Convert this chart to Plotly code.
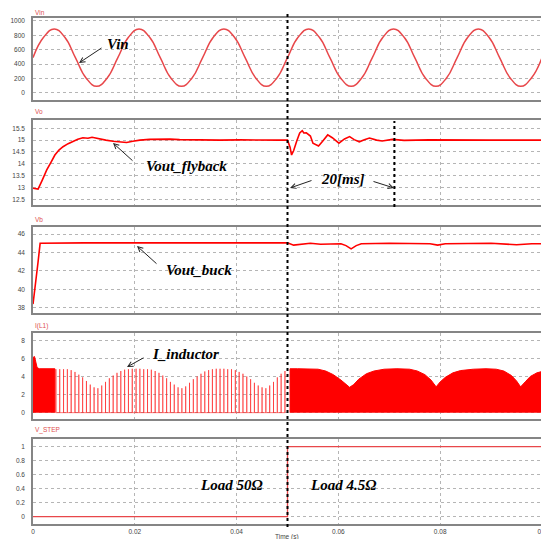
import plotly.graph_objects as go
from plotly.subplots import make_subplots

# ---------------- data ----------------
# Panel 1: Vin
vin_t = [0, 0.00208, 0.00417, 0.00625, 0.00833, 0.01042, 0.0125, 0.01458,
         0.01667, 0.01875, 0.02083, 0.02292, 0.025, 0.02708, 0.02917, 0.03125,
         0.03333, 0.03542, 0.0375, 0.03958, 0.04167, 0.04375, 0.04583, 0.04792,
         0.05, 0.05208, 0.05417, 0.05625, 0.05833, 0.06042, 0.0625, 0.06458,
         0.06667, 0.06875, 0.07083, 0.07292, 0.075, 0.07708, 0.07917, 0.08125,
         0.08333, 0.08542, 0.0875, 0.08958, 0.09167, 0.09375, 0.09583, 0.09792, 0.1]
vin_v = [490, 773, 890, 773, 490, 207, 90, 207,
         490, 773, 890, 773, 490, 207, 90, 207,
         490, 773, 890, 773, 490, 207, 90, 207,
         490, 773, 890, 773, 490, 207, 90, 207,
         490, 773, 890, 773, 490, 207, 90, 207,
         490, 773, 890, 773, 490, 207, 90, 207, 490]

# Panel 2: Vout_flyback
vo_t = [0, 0.001, 0.0018, 0.0027, 0.0035, 0.0043, 0.0051, 0.0059, 0.0069, 0.0076,
        0.0088, 0.0098, 0.0108, 0.0116, 0.0124, 0.0131, 0.0143, 0.0157, 0.0171,
        0.0184, 0.0196, 0.021, 0.0229, 0.0249, 0.0269, 0.0288, 0.0327, 0.0367,
        0.0406, 0.0445, 0.0484, 0.05, 0.0505, 0.0508, 0.0512, 0.0518, 0.0524,
        0.0529, 0.0532, 0.0537, 0.054, 0.0545, 0.055, 0.0555, 0.0561, 0.0569,
        0.0579, 0.0588, 0.0601, 0.0612, 0.0622, 0.0631, 0.0641, 0.0651, 0.0661,
        0.0675, 0.0686, 0.0706, 0.0729, 0.0778, 0.0837, 0.0896, 0.0955, 0.1]
vo_v = [12.97, 12.93, 13.3, 13.74, 14.05, 14.37, 14.58, 14.72, 14.85, 14.93,
        15.04, 15.1, 15.08, 15.12, 15.08, 15.05, 15.0, 14.95, 14.92,
        14.9, 14.95, 15.0, 15.03, 15.05, 15.04, 15.02, 15.0, 15.0,
        15.01, 14.99, 15.0, 15.0, 14.7, 14.37, 14.55, 14.95, 15.3,
        15.4, 15.3, 15.31, 15.25, 15.17, 14.87, 14.8, 14.75, 14.95,
        15.22, 15.1, 14.87, 15.05, 15.15, 15.02, 14.93, 15.02, 15.09,
        15.0, 14.96, 15.03, 14.99, 15.01, 14.99, 15.0, 15.0, 15.0]

# Panel 3: Vout_buck
vb_t = [0, 0.0005, 0.001, 0.0014, 0.003, 0.01, 0.02, 0.03, 0.04, 0.05, 0.0512,
        0.053, 0.0545, 0.0565, 0.058, 0.0605, 0.0615, 0.0625, 0.0635, 0.0645,
        0.07, 0.078, 0.0795, 0.081, 0.09, 0.095, 0.098, 0.1]
vb_v = [38.4, 40.5, 43.0, 45.0, 45.02, 45.05, 45.05, 45.04, 45.05, 45.05, 44.8,
        44.9, 45.0, 44.9, 44.92, 44.95, 44.75, 44.4, 44.75, 44.95,
        45.0, 44.95, 44.8, 44.95, 45.0, 44.85, 44.95, 44.95]

# Panel 4: I_inductor
il_start_t = [0, 0, 0.0003, 0.0008, 0.0012, 0.0043, 0.0043]
il_start_v = [0, 6.1, 6.2, 5.0, 4.85, 4.85, 0]
il_spike_t = [0.0045, 0.00525, 0.006, 0.00675, 0.0075, 0.00825, 0.009, 0.00975,
              0.0105, 0.01125, 0.012, 0.01275, 0.0135, 0.01425, 0.015, 0.01575,
              0.0165, 0.01725, 0.018, 0.01875, 0.0195, 0.02025, 0.021, 0.02175,
              0.0225, 0.02325, 0.024, 0.02475, 0.0255, 0.02625, 0.027, 0.02775,
              0.0285, 0.02925, 0.03, 0.03075, 0.0315, 0.03225, 0.033, 0.03375,
              0.0345, 0.03525, 0.036, 0.03675, 0.0375, 0.03825, 0.039, 0.03975,
              0.0405, 0.04125, 0.042, 0.04275, 0.0435, 0.04425, 0.045, 0.04575,
              0.0465, 0.04725, 0.048, 0.04875, 0.0495]
il_spike_v = [4.8, 4.8, 4.8, 4.8, 4.7, 4.5, 4.2, 3.9,
              3.5, 3.1, 2.8, 2.7, 3.0, 3.4, 3.8, 4.1,
              4.4, 4.6, 4.75, 4.8, 4.85, 4.85, 4.85, 4.8,
              4.8, 4.75, 4.6, 4.4, 4.1, 3.8, 3.4, 3.1,
              2.8, 2.7, 2.9, 3.3, 3.7, 4.0, 4.3, 4.55,
              4.7, 4.8, 4.85, 4.85, 4.85, 4.8, 4.8, 4.7,
              4.5, 4.3, 4.0, 3.7, 3.3, 3.0, 2.8, 2.7,
              3.0, 3.4, 3.9, 4.3, 4.6]
il_env_t = [0.0505, 0.0505, 0.052, 0.054, 0.056, 0.0575, 0.059, 0.0605, 0.0615,
            0.0622, 0.063, 0.064, 0.0655, 0.067, 0.069, 0.0715, 0.074, 0.0755,
            0.077, 0.0782, 0.0792, 0.080, 0.081, 0.0825, 0.084, 0.0865, 0.089,
            0.091, 0.0925, 0.094, 0.095, 0.0958, 0.0967, 0.0977, 0.099, 0.1]
il_env_v = [0, 4.85, 4.85, 4.85, 4.8, 4.6, 4.2, 3.6, 3.1,
            2.8, 3.1, 3.7, 4.3, 4.6, 4.8, 4.85, 4.8, 4.6,
            4.2, 3.6, 2.85, 3.4, 3.9, 4.4, 4.65, 4.8, 4.85,
            4.8, 4.6, 4.1, 3.5, 2.85, 3.4, 4.0, 4.4, 4.55]

# Panel 5: V_STEP
step_t = [0, 0.05, 0.1]
step_v = [0, 1, 1]

# ---------------- figure ----------------
RED = "#ff0000"
fig = make_subplots(rows=5, cols=1, shared_xaxes=True, vertical_spacing=0.02)

fig.add_trace(go.Scatter(x=vin_t, y=vin_v, mode="lines",
                         line=dict(color="#e8474a", width=1.5, shape="spline", smoothing=1.3)),
              row=1, col=1)
fig.add_trace(go.Scatter(x=vo_t, y=vo_v, mode="lines",
                         line=dict(color=RED, width=1.6)), row=2, col=1)
fig.add_trace(go.Scatter(x=vb_t, y=vb_v, mode="lines",
                         line=dict(color=RED, width=1.6)), row=3, col=1)

fig.add_trace(go.Scatter(x=il_start_t, y=il_start_v, mode="lines", fill="toself",
                         fillcolor=RED, line=dict(color=RED, width=1)), row=4, col=1)
sx, sy = [], []
for t, h in zip(il_spike_t, il_spike_v):
    sx += [t, t, t]
    sy += [0, h, 0]
fig.add_trace(go.Scatter(x=sx, y=sy, mode="lines",
                         line=dict(color="rgba(255,30,30,0.6)", width=1)), row=4, col=1)
fig.add_trace(go.Scatter(x=il_env_t, y=il_env_v, mode="lines", fill="tozeroy",
                         fillcolor=RED, line=dict(color=RED, width=1)), row=4, col=1)

fig.add_trace(go.Scatter(x=step_t, y=step_v, mode="lines",
                         line=dict(color="#e8474a", width=1.3, shape="hv")), row=5, col=1)

# page has an 8px body margin: plot area starts at page px (33, 14)
OFF = 8
L, T, PW, PH = 33, 14, 509, 510
FW, FH = 549 - OFF, 539 - OFF


def px_x(px):
    return (px - L) / PW


def px_y(py):
    return (T + PH - py) / PH


domains = [[0.8314, 0.9922], [0.6255, 0.7922], [0.4131, 0.5829], [0.2059, 0.3745], [0.0, 0.1667]]
ranges = [[-100, 1042], [12.26, 15.85], [37.4, 46.8], [-0.7, 8.8], [-0.104, 1.11]]
tickv = [[0, 200, 400, 600, 800, 1000],
         [12.5, 13, 13.5, 14, 14.5, 15, 15.5],
         [38, 40, 42, 44, 46],
         [0, 2, 4, 6, 8],
         [0, 0.2, 0.4, 0.6, 0.8, 1]]

tickfont = dict(family="Liberation Sans", size=6.5, color="#444444")
for i in range(5):
    n = "" if i == 0 else str(i + 1)
    fig.layout["yaxis" + n].update(
        domain=domains[i], range=ranges[i], tickvals=tickv[i],
        showgrid=True, gridcolor="#b5b5b5", griddash="dot", gridwidth=1,
        showline=True, mirror=True, linecolor="#858585", linewidth=1.5,
        zeroline=False, ticks="", tickfont=tickfont, ticklabelstandoff=5,
        automargin=False)
    fig.layout["xaxis" + n].update(
        range=[0, 0.1], tickvals=[0, 0.02, 0.04, 0.06, 0.08, 0.1],
        showgrid=True, gridcolor="#b5b5b5", griddash="dot", gridwidth=1,
        showline=True, mirror=True, linecolor="#858585", linewidth=1.5,
        zeroline=False, ticks="", tickfont=tickfont, automargin=False,
        showticklabels=(i == 4))

fig.update_layout(
    template="none", width=FW, height=FH, showlegend=False,
    margin=dict(l=L - OFF, r=FW - (L - OFF) - PW, t=T - OFF, b=FH - (T - OFF) - PH),
    paper_bgcolor="white", plot_bgcolor="white",
)

# vertical marker lines
fig.add_shape(type="line", xref="x", yref="paper", x0=0.05, x1=0.05,
              y0=px_y(527), y1=px_y(12), layer="above",
              line=dict(color="black", width=2, dash="dot"))
fig.add_shape(type="line", xref="x", yref="paper", x0=0.071, x1=0.071,
              y0=px_y(207), y1=px_y(121), layer="above",
              line=dict(color="black", width=2, dash="dot"))

# panel titles
titlefont = dict(family="Liberation Sans", size=6.5, color="#e0504f")
for txt, py in [("Vin", 12.5), ("Vo", 112), ("Vb", 219), ("I(L1)", 326), ("V_STEP", 430)]:
    fig.add_annotation(text=txt, x=px_x(33), y=px_y(py), xref="paper", yref="paper",
                       xanchor="left", yanchor="middle", showarrow=False, font=titlefont)

fig.add_annotation(text="Time (s)", x=px_x(287), y=px_y(537), xref="paper", yref="paper",
                   xanchor="center", yanchor="middle", showarrow=False,
                   font=dict(family="Liberation Sans", size=6.5, color="#444444"))

# labels
lab = dict(family="Liberation Serif", size=15, color="black", weight="bold", style="italic")
for txt, cx, cy in [("Vin", 118, 44), ("Vout_flyback", 186, 166), ("Vout_buck", 199, 270),
                    ("I_inductor", 185, 354), ("20[ms]", 343, 179),
                    ("Load 50Ω", 231, 485), ("Load 4.5Ω", 343, 485)]:
    fig.add_annotation(text=txt, x=px_x(cx), y=px_y(cy), xref="paper", yref="paper",
                       xanchor="center", yanchor="middle", showarrow=False, font=lab)

# arrows: (tip, tail)
for tip, tail in [((79, 63), (103, 47)), ((113, 143), (134, 162)), ((137, 246), (158, 265)),
                  ((127, 367), (145, 357)), ((290, 188), (313, 180)), ((394, 188), (372, 181))]:
    fig.add_annotation(text="", x=px_x(tip[0]), y=px_y(tip[1]), xref="paper", yref="paper",
                       ax=tail[0] - tip[0], ay=tail[1] - tip[1], showarrow=True,
                       arrowhead=5, arrowsize=1, arrowwidth=1, arrowcolor="#222222")

fig.write_html("out.html")
